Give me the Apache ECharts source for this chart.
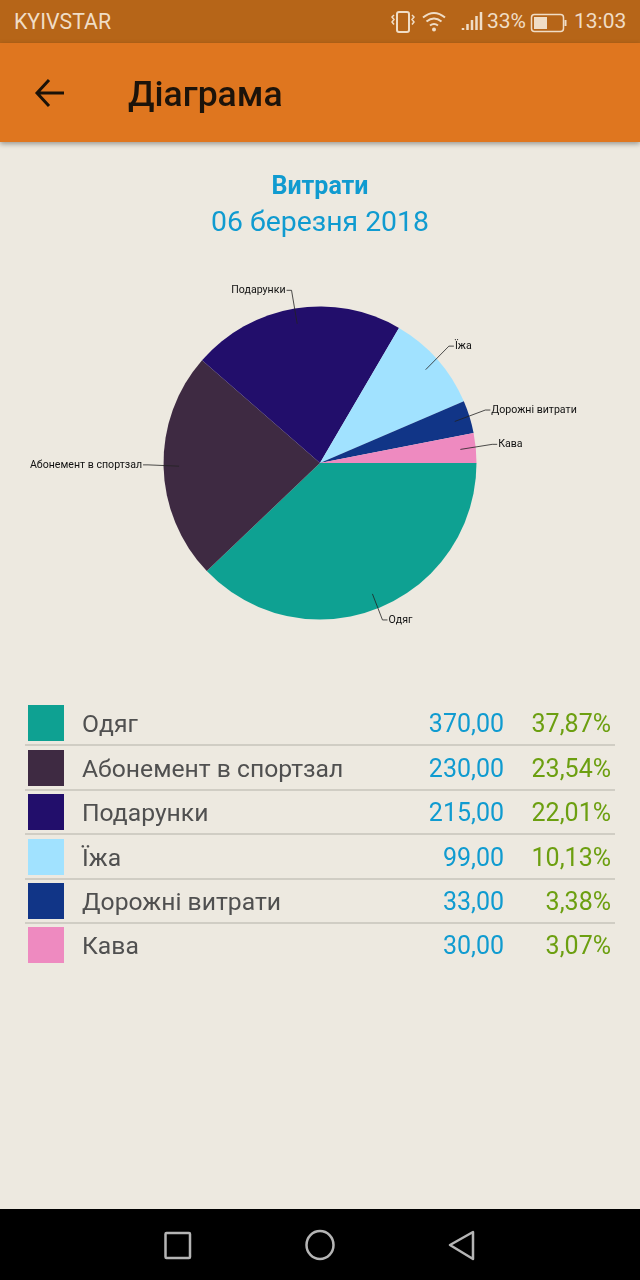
<!DOCTYPE html>
<html><head><meta charset="utf-8">
<script src="https://cdn.jsdelivr.net/npm/echarts@6/dist/echarts.min.js"></script>
<style>
html,body{margin:0;padding:0;width:640px;height:1280px;overflow:hidden;background:#ede9e0;font-family:Roboto,sans-serif}
#chart{position:absolute;left:0;top:0;width:640px;height:1280px}
.abs{position:absolute;white-space:nowrap}
#status{position:absolute;left:0;top:0;width:640px;height:43px;background:#b66518;color:#f0ddc6;font-size:21.3px}
#bar{position:absolute;left:0;top:43px;width:640px;height:99px;background:#df761f;box-shadow:0 2px 5px rgba(0,0,0,.35)}
#nav{position:absolute;left:0;top:1209px;width:640px;height:71px;background:#000}
.row{position:absolute;left:0;width:640px;height:36px;font-size:25px;line-height:38px}
.sw{position:absolute;left:28px;top:0;width:36px;height:36px}
.nm{position:absolute;left:82px;top:0;color:#505050;white-space:nowrap;font-size:24.7px}
.vl{position:absolute;right:136px;top:0;color:#109bd0}
.pc{position:absolute;right:29px;top:0;color:#6c9f10}
.sep{position:absolute;left:25px;width:590px;height:2px;background:#d0cdc4}
</style></head><body>
<div id="chart"></div>
<div id="status">
 <div class="abs" style="left:14px;top:9px">KYIVSTAR</div>
 <svg class="abs" style="left:388px;top:8px" width="180" height="28" fill="none" stroke="#f0ddc6">
  <rect x="9" y="4" width="12" height="20" rx="2" stroke-width="2"/>
  <path d="M6 7l-2 2 2 2.500-2 2.500 2 2.500M24 7l2 2-2 2.500 2 2.500-2 2.500" stroke-width="1.500"/>
  <path d="M35 9.500q11-9 22 0M38.500 13.500q7.500-6 15 0M42 17.500q4-3 8 0" stroke-width="2"/>
  <circle cx="46" cy="21.500" r="2" fill="#f0ddc6" stroke="none"/>
  <path d="M75 22v-2M79.500 22v-6M84 22v-10M88.500 22v-14M93 22v-18" stroke-width="2.500"/>
  <rect x="143.500" y="6.500" width="32" height="17" rx="3" stroke-width="1.500"/>
  <rect x="146" y="9" width="13" height="12" fill="#f0ddc6" stroke="none"/>
  <rect x="176.500" y="12" width="2" height="6" fill="#f0ddc6" stroke="none"/>
 </svg>
 <div class="abs" style="left:487px;top:9px;font-size:21px">33%</div>
 <div class="abs" style="left:574px;top:9px;font-size:21px">13:03</div>
</div>
<div id="bar">
 <svg class="abs" style="left:30px;top:30px" width="40" height="40" fill="none" stroke="#1a1208" stroke-width="3">
  <path d="M34 20H8M19 7L7 20l12 13"/>
 </svg>
 <div class="abs" style="left:128px;top:30px;font-size:35.500px;font-weight:500;color:#1c130a">Діаграма</div>
</div>
<div id="rows"></div>
<div id="nav">
 <svg width="640" height="71" fill="none" stroke="#b5b5b5" stroke-width="2.500">
  <rect x="165.500" y="24" width="24.500" height="25" rx="1"/>
  <ellipse cx="320" cy="36" rx="13.500" ry="14"/>
  <path d="M473 23v27L450 36z" stroke-linejoin="round"/>
 </svg>
</div>
<script>
var categories = ['Одяг','Абонемент в спортзал','Подарунки','Їжа','Дорожні витрати','Кава'];
var values = [370,230,215,99,33,30];
var valueLabels = ['370,00','230,00','215,00','99,00','33,00','30,00'];
var percentLabels = ['37,87%','23,54%','22,01%','10,13%','3,38%','3,07%'];
var colors = ['#0ea192','#3e2a42','#220e6b','#a1e2ff','#113587','#ee8ac0'];
var rowTops = [705,750,794,839,883,927];
var sepTops = [744,789,833,878,922];
var lineLengths = [27,31,35,31,32,32];
var labelDy = [1,-2,1,-3,-2,-2];

var html='';
categories.forEach(function(c,i){
  html+='<div class="row" style="top:'+rowTops[i]+'px"><div class="sw" style="background:'+colors[i]+'"></div>'+
    '<div class="nm">'+c+'</div><div class="vl">'+valueLabels[i]+'</div><div class="pc">'+percentLabels[i]+'</div></div>';
});
sepTops.forEach(function(t){html+='<div class="sep" style="top:'+t+'px"></div>';});
document.getElementById('rows').innerHTML=html;

var chart=echarts.init(document.getElementById('chart'),null,{renderer:'canvas',width:640,height:1280});
chart.setOption({
  animation:false,
  title:{left:'center',top:169,text:'Витрати',subtext:'06 березня 2018',itemGap:7,
    textStyle:{fontFamily:'Roboto',fontSize:25,fontWeight:'bold',color:'#109bd0',lineHeight:27},
    subtextStyle:{fontFamily:'Roboto',fontSize:28.4,color:'#109bd0',lineHeight:32}},
  series:[
    {type:'pie',radius:[0,156.5],center:[320,463],startAngle:0,clockwise:true,silent:true,z:2,
     label:{show:false},labelLine:{show:false},
     data:categories.map(function(c,i){return {name:c,value:values[i],itemStyle:{color:colors[i]}};})},
    {type:'pie',radius:[0,141],center:[320,463],startAngle:0,clockwise:true,silent:true,z:5,
     avoidLabelOverlap:false,minShowLabelAngle:0,
     itemStyle:{color:'transparent',opacity:0},
     label:{show:true,fontFamily:'Roboto',fontSize:10.6,color:'#111',distanceToLabelLine:1,formatter:'{b}'},
     labelLine:{show:true,length2:5,smooth:false,lineStyle:{color:'#222',width:0.8}},
     labelLayout:function(p){
       var dy=labelDy[p.dataIndex], pts=p.labelLinePoints;
       var out={dy:dy};
       if(pts){out.labelLinePoints=[[pts[0][0],pts[0][1]],[pts[1][0],pts[1][1]+dy],[pts[2][0],pts[2][1]+dy]];}
       return out;
     },
     data:categories.map(function(c,i){return {name:c,value:values[i],
       itemStyle:{color:'transparent',opacity:0},
       label:{opacity:1},
       labelLine:{length:lineLengths[i],lineStyle:{color:'#222',width:0.8,opacity:1}}};})}
  ]
});
</script>
</body></html>
